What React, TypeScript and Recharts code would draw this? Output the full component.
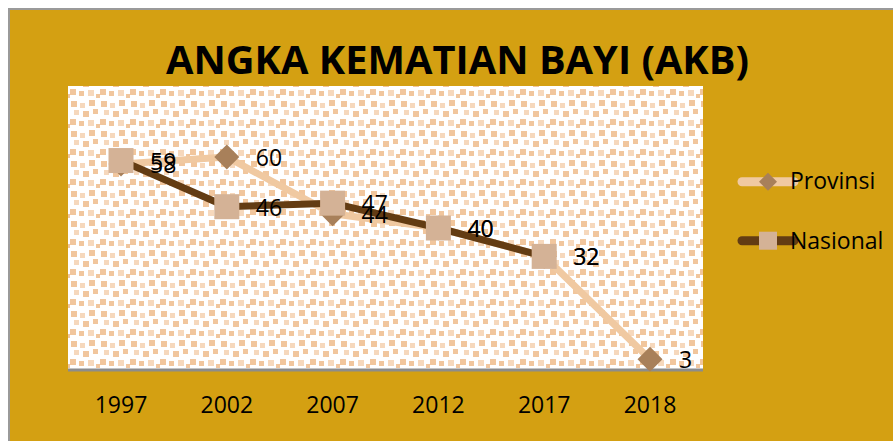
import React from "react";
import { LineChart, Line, XAxis, YAxis, CartesianGrid, LabelList, Legend } from "recharts";

const years = ["1997", "2002", "2007", "2012", "2017", "2018"];
const provinsi: (number | null)[] = [58, 60, 44, 40, 32, 3];
const nasional: (number | null)[] = [59, 46, 47, 40, 32, null];
const seriesNames = ["Provinsi", "Nasional"];
const title = "ANGKA KEMATIAN BAYI (AKB)";

const data = years.map((y, i) => ({ year: y, prov: provinsi[i], nas: nasional[i] }));

const GOLD = "#D4A012";
const PROV_LINE = "#F0C9A1";
const PROV_DOT = "#A8805A";
const NAS_LINE = "#633C13";
const NAS_DOT = "#D4B296";
const FONT = "'Open Sans', sans-serif";
const MARK = 25;

const Diamond = (props: any) => {
  const { cx, cy, index } = props;
  const h = MARK / 2;
  if (cx == null || cy == null || props.value == null) return <g key={"d" + index} />;
  return (
    <polygon
      key={"d" + index}
      points={`${cx},${cy - h} ${cx + h},${cy} ${cx},${cy + h} ${cx - h},${cy}`}
      fill={PROV_DOT}
    />
  );
};

const Square = (props: any) => {
  const { cx, cy, index } = props;
  if (cx == null || cy == null || props.value == null) return <g key={"s" + index} />;
  return <rect key={"s" + index} x={cx - MARK / 2} y={cy - MARK / 2} width={MARK} height={MARK} fill={NAS_DOT} />;
};

const ValueLabel = (props: any) => {
  const { x, y, value } = props;
  if (value == null || x == null || y == null) return null;
  return (
    <text x={x + 29} y={y + 9} fontSize={23} fontFamily={FONT} fill="#000">
      {value}
    </text>
  );
};

const YearTick = (props: any) => {
  const { x, y, payload } = props;
  return (
    <text x={x} y={y} dy={35} textAnchor="middle" fontSize={23} fontFamily={FONT} fill="#000">
      {payload.value}
    </text>
  );
};

const LegendBox = () => (
  <svg width={170} height={100} style={{ display: "block" }}>
    <line x1={14} y1={16.7} x2={66} y2={16.7} stroke={PROV_LINE} strokeWidth={9} strokeLinecap="round" />
    <polygon points="40,7.7 49,16.7 40,25.7 31,16.7" fill={PROV_DOT} />
    <text x={62} y={24} fontSize={23} fontFamily={FONT} fill="#000">{seriesNames[0]}</text>
    <line x1={14} y1={75.7} x2={66} y2={75.7} stroke={NAS_LINE} strokeWidth={9} strokeLinecap="round" />
    <rect x={31} y={66.7} width={18} height={18} fill={NAS_DOT} />
    <text x={62} y={84} fontSize={23} fontFamily={FONT} fill="#000">{seriesNames[1]}</text>
  </svg>
);

const C1 = "#F1C69D";
const C2 = "#F6D8BC";

export default function App() {
  return (
    <>
      <style>{`html,body{overflow:hidden;}`}</style>
      <div
        style={{
          position: "absolute",
          left: 8,
          top: 8,
          width: 883,
          height: 431,
          background: GOLD,
          borderLeft: "2px solid #9a9a9a",
          borderTop: "2px solid #9a9a9a",
          fontFamily: FONT,
        }}
      >
        <svg width={883} height={90} style={{ position: "absolute", left: 0, top: 0, pointerEvents: "none" }}>
          <text
            x={156}
            y={64}
            textLength={583}
            lengthAdjust="spacingAndGlyphs"
            fontSize={40}
            fontWeight={700}
            fontFamily={FONT}
            fill="#000"
          >
            {title}
          </text>
        </svg>
        <LineChart
          width={883}
          height={431}
          data={data}
          margin={{ top: 76, right: 190, bottom: 41, left: 58 }}
        >
          <defs>
            <pattern id="dots" x={0} y={0} width={30} height={30} patternUnits="userSpaceOnUse">
              <rect x={0} y={0} width={30} height={30} fill="#ffffff" />
              <rect x={1} y={1} width={6} height={6} fill={C1} />
              <rect x={10} y={3} width={5} height={5} fill={C2} />
              <rect x={19} y={0} width={6} height={6} fill={C1} />
              <rect x={4} y={10} width={5} height={5} fill={C2} />
              <rect x={13} y={11} width={6} height={6} fill={C1} />
              <rect x={23} y={9} width={5} height={5} fill={C1} />
              <rect x={0} y={19} width={6} height={6} fill={C1} />
              <rect x={9} y={21} width={5} height={5} fill={C1} />
              <rect x={18} y={20} width={6} height={6} fill={C2} />
              <rect x={26} y={24} width={4} height={4} fill={C1} />
            </pattern>
          </defs>
          <CartesianGrid horizontal={false} vertical={false} fill="url(#dots)" fillOpacity={1} />
          <XAxis
            dataKey="year"
            padding={{ left: 53, right: 53 }}
            axisLine={{ stroke: "#8C8C8C", strokeWidth: 3 }}
            tickLine={false}
            tick={<YearTick />}
            height={30}
            interval={0}
          />
          <YAxis hide domain={[0, 80]} />
          <Legend
            layout="vertical"
            align="center"
            verticalAlign="middle"
            content={<LegendBox />}
            wrapperStyle={{ left: 718, top: 155, width: 170, height: 100 }}
          />
          <Line
            type="linear"
            dataKey="prov"
            name={seriesNames[0]}
            stroke={PROV_LINE}
            strokeWidth={7}
            strokeLinejoin="round"
            strokeLinecap="round"
            dot={(p: any) => <Diamond {...p} key={"pd" + p.index} />}
            activeDot={false}
            isAnimationActive={false}
          >
            <LabelList dataKey="prov" content={<ValueLabel />} />
          </Line>
          <Line
            type="linear"
            dataKey="nas"
            name={seriesNames[1]}
            stroke={NAS_LINE}
            strokeWidth={7}
            strokeLinejoin="round"
            strokeLinecap="round"
            dot={(p: any) => <Square {...p} key={"nd" + p.index} />}
            activeDot={false}
            isAnimationActive={false}
          >
            <LabelList dataKey="nas" content={<ValueLabel />} />
          </Line>
        </LineChart>
      </div>
    </>
  );
}
